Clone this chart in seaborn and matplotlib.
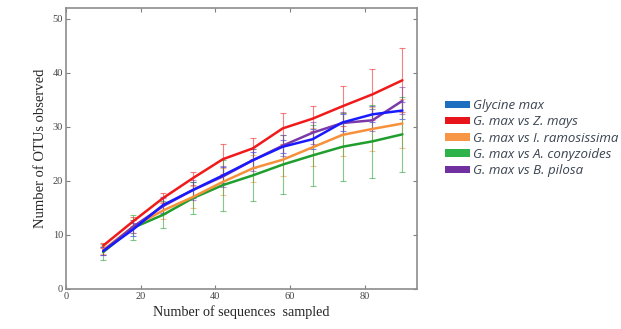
import numpy as np
import pandas as pd
from matplotlib import pyplot as plt
from matplotlib.patches import Patch
import seaborn as sns

seqs = [10, 18, 26, 34, 42, 50, 58, 66, 74, 82, 90]

names = ['Glycine max', 'G. max vs Z. mays', 'G. max vs I. ramosissima',
         'G. max vs A. conyzoides', 'G. max vs B. pilosa']

glycine = [7.0, 11.0, 15.5, 18.3, 21.0, 23.8, 26.3, 27.7, 30.8, 32.3, 33.0]
zmays = [8.0, 12.5, 16.8, 20.5, 24.0, 26.0, 29.7, 31.5, 33.8, 36.0, 38.6]
iramo = [7.2, 11.5, 14.5, 17.0, 19.8, 22.3, 23.9, 26.2, 28.5, 29.6, 30.6]
aconyz = [6.8, 11.3, 13.7, 16.8, 19.2, 21.0, 23.0, 24.7, 26.3, 27.3, 28.6]
bpilosa = [7.0, 11.5, 15.3, 18.3, 20.8, 23.8, 26.5, 28.9, 30.7, 31.2, 34.8]

err_glycine = [0.8, 1.2, 1.5, 1.5, 1.5, 1.5, 1.2, 1.8, 1.5, 1.5, 1.5]
err_zmays = [0.5, 0.8, 1.0, 1.2, 2.8, 2.0, 2.8, 2.3, 3.7, 4.7, 5.9]
err_iramo = [0.8, 1.2, 1.5, 2.0, 2.5, 2.5, 3.0, 3.5, 4.0, 4.0, 4.5]
err_aconyz = [1.5, 2.3, 2.5, 3.0, 4.7, 4.8, 5.4, 5.7, 6.3, 6.7, 6.9]
err_bpilosa = [0.8, 1.2, 1.5, 1.8, 2.0, 2.0, 2.0, 2.0, 2.0, 2.0, 2.5]

line_cols = ['#1a1aff', '#f01a1a', '#f7903a', '#1f9e2e', '#7a3aa8']
patch_cols = ['#1f6fc0', '#e8141c', '#f79646', '#2db34a', '#7030a0']

vals = [glycine, zmays, iramo, aconyz, bpilosa]
errs = [err_glycine, err_zmays, err_iramo, err_aconyz, err_bpilosa]

df = pd.DataFrame({'seqs': seqs * 5,
                   'otus': sum(vals, []),
                   'err': sum(errs, []),
                   'group': [n for n in names for _ in seqs]})

sns.set_style('ticks')
plt.rcParams['font.family'] = ['Liberation Serif', 'DejaVu Serif']

fig = plt.figure(figsize=(6.21, 3.29), dpi=100)
ax = fig.add_axes([0.106, 0.122, 0.566, 0.854])

# error bars underneath the lines
for n, c in zip(names, line_cols):
    d = df[df.group == n]
    ax.errorbar(d.seqs, d.otus, yerr=d.err, fmt='none', ecolor=c,
                elinewidth=0.8, capsize=2, capthick=0.8, alpha=0.55, zorder=1)

draw_order = ['G. max vs A. conyzoides', 'G. max vs I. ramosissima',
              'G. max vs B. pilosa', 'Glycine max', 'G. max vs Z. mays']
sns.lineplot(data=df, x='seqs', y='otus', hue='group', hue_order=draw_order,
             palette=dict(zip(names, line_cols)), linewidth=1.8,
             legend=False, ax=ax, zorder=3)

ax.set_xlim(0, 94)
ax.set_ylim(0, 52)
ax.set_xticks([0, 20, 40, 60, 80])
ax.set_yticks([0, 10, 20, 30, 40, 50])
ax.tick_params(direction='in', top=True, right=True, length=3, width=0.8,
               color='#808080', labelsize=7.5, labelcolor='#444444', pad=2)
for s in ax.spines.values():
    s.set_color('#8c8c8c')
    s.set_linewidth(1.2)

ax.set_xlabel('Number of sequences  sampled', fontsize=10.2, labelpad=3)
ax.set_ylabel('Number of OTUs observed', fontsize=10.5, labelpad=4)

handles = [Patch(facecolor=c, edgecolor='none') for c in patch_cols]
leg = fig.legend(handles, names, loc='upper left', bbox_to_anchor=(0.7166, 0.699),
                 frameon=False, borderpad=0, borderaxespad=0,
                 handlelength=1.9, handleheight=0.5,
                 handletextpad=0.2, labelspacing=0.25,
                 prop={'family': 'Open Sans', 'style': 'italic', 'size': 9.5})
for t in leg.get_texts():
    t.set_color('#3a4450')

fig.savefig('out.png', dpi=100)
